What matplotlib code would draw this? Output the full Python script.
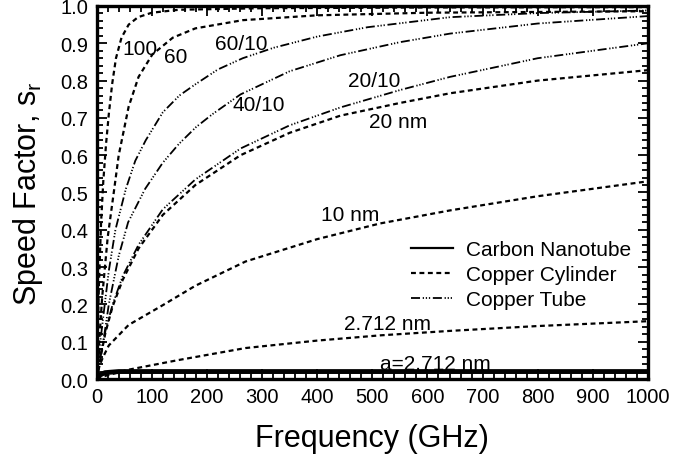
import matplotlib
matplotlib.use("Agg")
from matplotlib import pyplot as plt
from matplotlib.ticker import MultipleLocator, FormatStrFormatter
from matplotlib.lines import Line2D

plt.rcParams['font.family'] = ['Liberation Sans', 'DejaVu Sans']
plt.rcParams['mathtext.fontset'] = 'custom'
plt.rcParams['mathtext.rm'] = 'Liberation Sans'

# copper cylinder curves
f_100 = [0, 4, 8, 12, 17, 22, 28, 35, 45, 58, 75, 100, 150, 300, 600, 1000]
s_100 = [0, 0.25, 0.42, 0.53, 0.63, 0.71, 0.79, 0.86, 0.915, 0.95, 0.97, 0.982, 0.99, 0.994, 0.996, 0.997]

f_60 = [0, 10, 20, 31, 40, 58, 76, 101, 138, 179, 265, 400, 600, 1000]
s_60 = [0, 0.22, 0.38, 0.50, 0.60, 0.73, 0.81, 0.87, 0.915, 0.94, 0.962, 0.975, 0.982, 0.986]

f_20 = [0, 8, 16, 29, 47, 76, 120, 179, 261, 350, 442, 550, 641, 800, 1000]
s_20 = [0, 0.065, 0.125, 0.195, 0.265, 0.35, 0.44, 0.52, 0.60, 0.66, 0.706, 0.74, 0.766, 0.80, 0.828]

f_10 = [0, 5, 11, 22, 58, 120, 179, 270, 400, 514, 641, 800, 1000]
s_10 = [0, 0.035, 0.057, 0.09, 0.145, 0.198, 0.25, 0.315, 0.375, 0.417, 0.452, 0.49, 0.53]

f_2712 = [0, 5, 22, 58, 149, 270, 400, 514, 641, 800, 1000]
s_2712 = [0, 0.004, 0.011, 0.025, 0.051, 0.083, 0.103, 0.117, 0.129, 0.142, 0.155]

# copper tube curves (outer/inner)
f_60_10 = [0, 5, 13, 22, 34, 53, 70, 89, 120, 150, 179, 220, 265, 321, 400, 491, 641, 800, 1000]
s_60_10 = [0, 0.08, 0.18, 0.29, 0.40, 0.51, 0.585, 0.64, 0.715, 0.76, 0.79, 0.83, 0.86, 0.888, 0.918, 0.943, 0.97, 0.981, 0.988]

f_40_10 = [0, 8, 13, 22, 40, 57, 88, 120, 149, 180, 210, 261, 350, 442, 550, 641, 800, 1000]
s_40_10 = [0, 0.07, 0.11, 0.2, 0.33, 0.42, 0.51, 0.58, 0.63, 0.675, 0.71, 0.763, 0.825, 0.868, 0.903, 0.926, 0.953, 0.973]

f_20_10 = [0, 8, 16, 29, 47, 76, 120, 179, 261, 350, 442, 551, 641, 800, 1000]
s_20_10 = [0, 0.07, 0.13, 0.20, 0.275, 0.36, 0.455, 0.535, 0.618, 0.68, 0.728, 0.775, 0.81, 0.86, 0.90]

# carbon nanotube
f_cnt = [0, 5, 15, 40, 1000]
s_cnt = [0, 0.01, 0.017, 0.02, 0.02]

cyl_ls = (0, (2.2, 1.6))
tube_ls = (0, (5, 1.5, 0.7, 1, 0.7, 1, 0.7, 1.5))

fig = plt.figure(figsize=(6.92, 4.6), dpi=100)
ax = fig.add_axes([0.1397, 0.1739, 0.9364 - 0.1397, 0.9848 - 0.1739])

ax.plot(f_cnt, s_cnt, color='black', lw=3.5, ls='-', solid_capstyle='butt')
ax.plot(f_100, s_100, color='black', lw=1.6, ls=cyl_ls)
ax.plot(f_60_10, s_60_10, color='black', lw=1.3, ls=tube_ls)
ax.plot(f_60, s_60, color='black', lw=1.6, ls=cyl_ls)
ax.plot(f_20, s_20, color='black', lw=1.6, ls=cyl_ls)
ax.plot(f_10, s_10, color='black', lw=1.6, ls=cyl_ls)
ax.plot(f_2712, s_2712, color='black', lw=1.6, ls=cyl_ls)
ax.plot(f_40_10, s_40_10, color='black', lw=1.3, ls=tube_ls)
ax.plot(f_20_10, s_20_10, color='black', lw=1.3, ls=tube_ls)

ax.set_xlim(0, 1000)
ax.set_ylim(0, 1.0)
ax.xaxis.set_major_locator(MultipleLocator(100))
ax.xaxis.set_minor_locator(MultipleLocator(20))
ax.yaxis.set_major_locator(MultipleLocator(0.1))
ax.yaxis.set_minor_locator(MultipleLocator(0.02))
ax.yaxis.set_major_formatter(FormatStrFormatter('%.1f'))
ax.tick_params(which='both', direction='in', top=True, right=True, labelsize=14.5, width=1.3)
ax.tick_params(which='major', length=7, pad=6)
ax.tick_params(which='minor', length=4)
for sp in ax.spines.values():
    sp.set_linewidth(2.4)

ax.set_xlabel('Frequency (GHz)', fontsize=22, labelpad=12)
ax.set_ylabel('Speed Factor, s$_\\mathregular{r}$', fontsize=22, labelpad=11)

# curve labels
lab = dict(fontsize=15, ha='center', va='center')
ax.text(79, 0.885, '100', **lab)
ax.text(144, 0.865, '60', **lab)
ax.text(262, 0.9, '60/10', **lab)
ax.text(294, 0.735, '40/10', **lab)
ax.text(504, 0.80, '20/10', **lab)
ax.text(547, 0.69, '20 nm', **lab)
ax.text(459, 0.44, '10 nm', **lab)
ax.text(528, 0.148, '2.712 nm', **lab)
ax.text(614, 0.042, 'a=2.712 nm', **lab)

handles = [Line2D([], [], color='black', lw=1.6, ls='-'),
           Line2D([], [], color='black', lw=1.6, ls=cyl_ls),
           Line2D([], [], color='black', lw=1.3, ls=tube_ls)]
labels = ['Carbon Nanotube', 'Copper Cylinder', 'Copper Tube']
ax.legend(handles, labels, loc='upper left', bbox_to_anchor=(0.555, 0.395), frameon=False,
          fontsize=15, handlelength=2.0, handletextpad=0.65, labelspacing=0.3, borderaxespad=0)

fig.savefig('out.png', dpi=100)
